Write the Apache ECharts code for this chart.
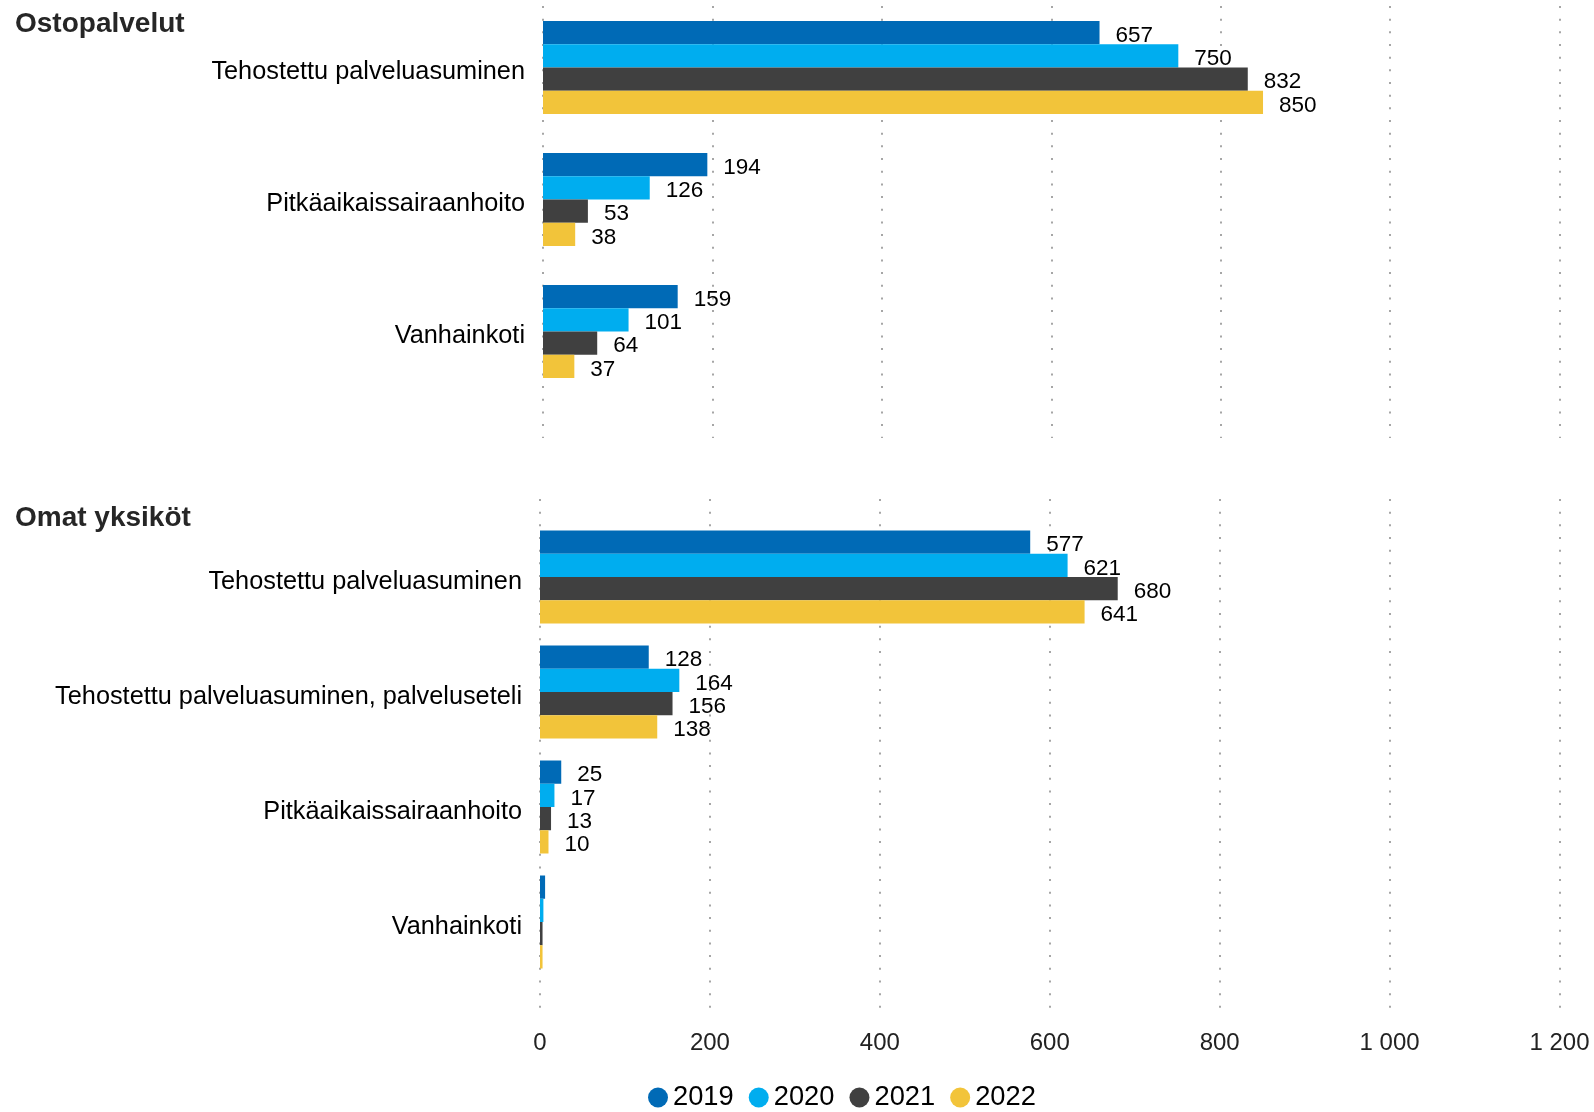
<!DOCTYPE html>
<html>
<head>
<meta charset="utf-8">
<script src="https://cdn.jsdelivr.net/npm/echarts@6/dist/echarts.min.js"></script>
<style>
html,body{margin:0;padding:0;background:#fff;}
#chart{width:1594px;height:1112px;}
</style>
</head>
<body>
<div id="chart"></div>
<script>
// ---- data ----
const years = ['2019', '2020', '2021', '2022'];
const colors = ['#006AB6', '#00ADEF', '#404040', '#F2C43A'];

const groupTitles = ['Ostopalvelut', 'Omat yksiköt'];

const topCategories = ['Tehostettu palveluasuminen', 'Pitkäaikaissairaanhoito', 'Vanhainkoti'];
const top2019 = [657, 194, 159];
const top2020 = [750, 126, 101];
const top2021 = [832, 53, 64];
const top2022 = [850, 38, 37];

const bottomCategories = ['Tehostettu palveluasuminen', 'Tehostettu palveluasuminen, palveluseteli', 'Pitkäaikaissairaanhoito', 'Vanhainkoti'];
const bottom2019 = [577, 128, 25, 6];
const bottom2020 = [621, 164, 17, 4];
const bottom2021 = [680, 156, 13, 3];
const bottom2022 = [641, 138, 10, 3];

const axisTicks = [0, 200, 400, 600, 800, 1000, 1200];

// ---- chart ----
const FONT = '"Liberation Sans", Arial, sans-serif';
const topSeries = [top2019, top2020, top2021, top2022];
const bottomSeries = [bottom2019, bottom2020, bottom2021, bottom2022];

function fmt(v) {
  return String(v).replace(/\B(?=(\d{3})+(?!\d))/g, '\u00a0');
}

function makeData(arr) {
  return arr.map(v => v < 10 ? { value: v, label: { show: false } } : v);
}

const series = [];
[topSeries, bottomSeries].forEach((set, gi) => {
  set.forEach((arr, si) => {
    series.push({
      type: 'bar',
      name: years[si],
      xAxisIndex: gi,
      yAxisIndex: gi,
      data: makeData(arr),
      barWidth: 23.25,
      barGap: '0%',
      itemStyle: { color: colors[si] },
      label: {
        show: true,
        position: 'right',
        distance: 16,
        offset: [0, 3],
        fontSize: 22.5,
        fontFamily: FONT,
        color: '#000'
      },
      emphasis: { disabled: true },
      z: 3
    });
  });
});

const valueAxisHidden = gi => ({
  type: 'value', gridIndex: gi, min: 0, max: axisTicks[axisTicks.length - 1],
  show: false, splitLine: { show: false }
});
const gridAxis = (gi, showLabels) => ({
  type: 'value', gridIndex: gi, min: axisTicks[0], max: axisTicks[axisTicks.length - 1],
  interval: axisTicks[1] - axisTicks[0],
  axisLine: { show: false }, axisTick: { show: false },
  axisLabel: {
    show: showLabels, fontSize: 24, fontFamily: FONT, color: '#222', margin: 13,
    formatter: v => fmt(v)
  },
  splitLine: { show: true, lineStyle: { color: '#a6a6a6', width: 2, type: [2, 10.67] } }
});
const catAxis = (gi, cats) => ({
  type: 'category', gridIndex: gi, data: cats, inverse: true,
  axisLine: { show: false }, axisTick: { show: false },
  axisLabel: {
    margin: 18,
    formatter: v => '{c|' + v + '}',
    rich: { c: { fontSize: 25.3, fontFamily: FONT, color: '#000', padding: [10, 0, 0, 0] } }
  }
});

const option = {
  backgroundColor: '#fff',
  animation: false,
  title: [
    { text: groupTitles[0], left: 15, top: 10, padding: 0,
      textStyle: { fontSize: 28, fontWeight: 'bold', fontFamily: FONT, color: '#262626' } },
    { text: groupTitles[1], left: 15, top: 504, padding: 0,
      textStyle: { fontSize: 28, fontWeight: 'bold', fontFamily: FONT, color: '#262626' } }
  ],
  legend: {
    data: years,
    left: 648, top: 1084, padding: 0,
    icon: 'circle', itemWidth: 20, itemHeight: 20, itemGap: 15,
    textStyle: { fontSize: 27.3, fontFamily: FONT, color: '#000', padding: [0, 0, 0, 0] },
    selectedMode: false
  },
  grid: [
    { left: 543, right: 34.5, top: 1.5, height: 396 },
    { left: 540, right: 34.5, top: 519.5, height: 460 },
    { left: 543, right: 34.5, top: 6, height: 432 },
    { left: 540, right: 34.5, top: 499, height: 519 }
  ],
  xAxis: [valueAxisHidden(0), valueAxisHidden(1), gridAxis(2, false), gridAxis(3, true)],
  yAxis: [
    catAxis(0, topCategories),
    catAxis(1, bottomCategories),
    { type: 'value', gridIndex: 2, min: 0, max: 1, show: false, splitLine: { show: false } },
    { type: 'value', gridIndex: 3, min: 0, max: 1, show: false, splitLine: { show: false } }
  ],
  series: series
};

const chart = echarts.init(document.getElementById('chart'), null, { renderer: 'canvas' });
chart.setOption(option);
</script>
</body>
</html>
